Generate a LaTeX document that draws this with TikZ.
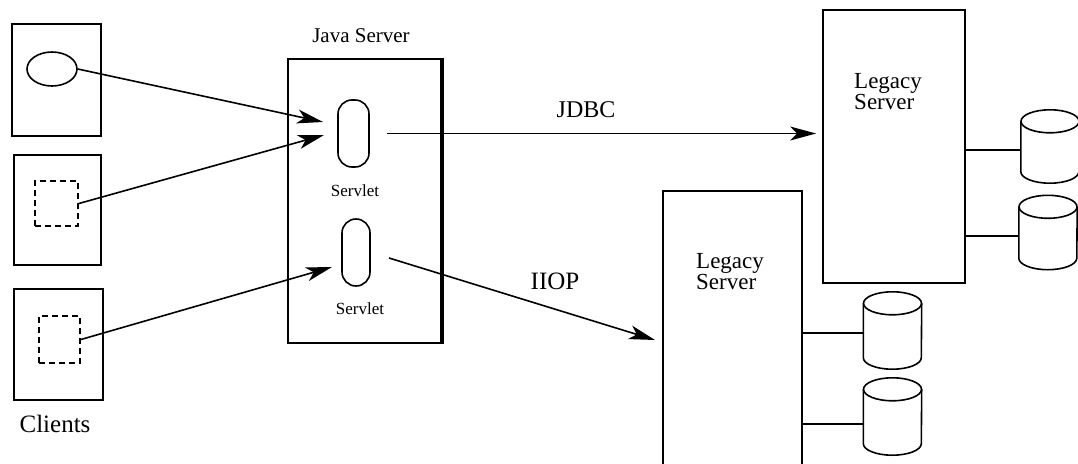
\documentclass[tikz,border=0pt]{standalone}
\usepackage{fontspec}
\setmainfont{Liberation Serif}
\usetikzlibrary{arrows.meta,shapes.geometric}
\newcommand\mycyl[1]{%
  \draw[line width=1.6pt] ([yshift=-11.5pt]#1.north) ellipse [x radius=29pt,y radius=11.5pt];
  \draw[line width=1.6pt] ([yshift=-11.5pt]#1.north west) -- ([yshift=11.5pt]#1.south west)
     arc[start angle=180,end angle=360,x radius=29pt,y radius=11.5pt] -- ([yshift=-11.5pt]#1.north east);}
\begin{document}
\begin{tikzpicture}[x=1pt,y=-1pt,
  box/.style={draw,line width=1.8pt,rectangle,inner sep=0pt},
  dbox/.style={draw,line width=1.8pt,rectangle,inner sep=0pt,dash pattern=on 6pt off 4pt},
  capsule/.style={draw,line width=1.6pt,rectangle,rounded corners=14pt,inner sep=0pt},
  cylbox/.style={rectangle,inner sep=0pt,minimum width=58pt},
  conn/.style={line width=1.6pt,-{Stealth[length=26pt,width=14pt,inset=7pt]}},
  link/.style={line width=1.6pt},
  lbl/.style={inner sep=0pt,font=\fontsize{24}{24}\selectfont},
  small/.style={inner sep=0pt,font=\fontsize{17}{17}\selectfont},
  legacy/.style={inner sep=0pt,align=left,font=\fontsize{23}{18}\selectfont}]
\useasboundingbox (0,0) rectangle (1078,463);
\clip (0,0) rectangle (1078,463);
\fill[white] (0,0) rectangle (1078,463);

% clients
\node[box,minimum width=89pt,minimum height=112pt] (c1) at (56.5,80) {};
\node[draw,line width=1.6pt,ellipse,inner sep=0pt,minimum width=50pt,minimum height=34pt] (e1) at (52,69) {};
\node[box,minimum width=87pt,minimum height=110pt] (c2) at (57.5,210) {};
\node[dbox,minimum width=43pt,minimum height=45pt] (s2) at (56.5,203.5) {};
\node[box,minimum width=89pt,minimum height=111pt] (c3) at (58.5,344.5) {};
\node[dbox,minimum width=41pt,minimum height=47pt] (s3) at (59.5,339.5) {};
\node[lbl,font=\fontsize{25}{25}\selectfont] (cl) at (55,424) {Clients};

% java server
\node[box,minimum width=153pt,minimum height=284pt] (js) at (364.5,201) {};
\draw[line width=3.2pt] (js.north east) -- (js.south east);
\node[lbl,font=\fontsize{21}{21}\selectfont,anchor=base] (jsl) at (361,42) {Java Server};
\node[capsule,minimum width=31pt,minimum height=67pt] (sv1) at (353.5,133.5) {};
\node[small,anchor=base] (sv1l) at (355,196) {Servlet};
\node[capsule,minimum width=28pt,minimum height=67pt] (sv2) at (356,252.5) {};
\node[small,anchor=base] (sv2l) at (360,314) {Servlet};

% legacy servers
\node[box,minimum width=142pt,minimum height=273pt] (ls1) at (894,146.5) {};
\node[legacy,anchor=north west] (ls1l) at (854,73) {Legacy\\Server};
\node[box,minimum width=139pt,minimum height=300pt] (ls2) at (732.5,341) {};
\node[legacy,anchor=north west] (ls2l) at (696,253) {Legacy\\Server};

% databases
\node[cylbox,minimum height=73pt] (du1) at (1050,146.5) {};
\node[cylbox,minimum height=74pt] (du2) at (1048,232.5) {};
\node[cylbox,minimum height=77pt] (dl1) at (892.5,330.5) {};
\node[cylbox,minimum height=77pt] (dl2) at (892.5,416.5) {};
\mycyl{du1}\mycyl{du2}\mycyl{dl1}\mycyl{dl2}
\draw[link] ([yshift=-3.5pt]du1.west) -- ([yshift=-3.5pt]du1.west -| ls1.east);
\draw[link] ([yshift=-3.5pt]du2.west) -- ([yshift=-3.5pt]du2.west -| ls1.east);
\draw[link] ([yshift=-2.5pt]dl1.west) -- ([yshift=-2.5pt]dl1.west -| ls2.east);
\draw[link] ([yshift=-7.5pt]dl2.west) -- ([yshift=-7.5pt]dl2.west -| ls2.east);

% client arrows
\coordinate (a1) at (323,122);
\coordinate (a2) at (324,135);
\coordinate (a3) at (332,267);
\draw[conn] (e1.east) -- (a1);
\draw[conn] (s2.east) -- (a2);
\draw[conn] (s3.east) -- (a3);

% JDBC and IIOP
\draw[conn,shorten <=17.5pt,shorten >=6pt] (sv1.east) -- (sv1.east -| ls1.west);
\node[lbl,anchor=base] (jdbc) at (586,117) {JDBC};
\coordinate (i0) at (389,258);
\coordinate (i1) at (655,340);
\draw[conn] (i0) -- (i1);
\node[lbl,font=\fontsize{25}{25}\selectfont,anchor=base] (iiop) at (555,289) {IIOP};
\end{tikzpicture}
\end{document}
